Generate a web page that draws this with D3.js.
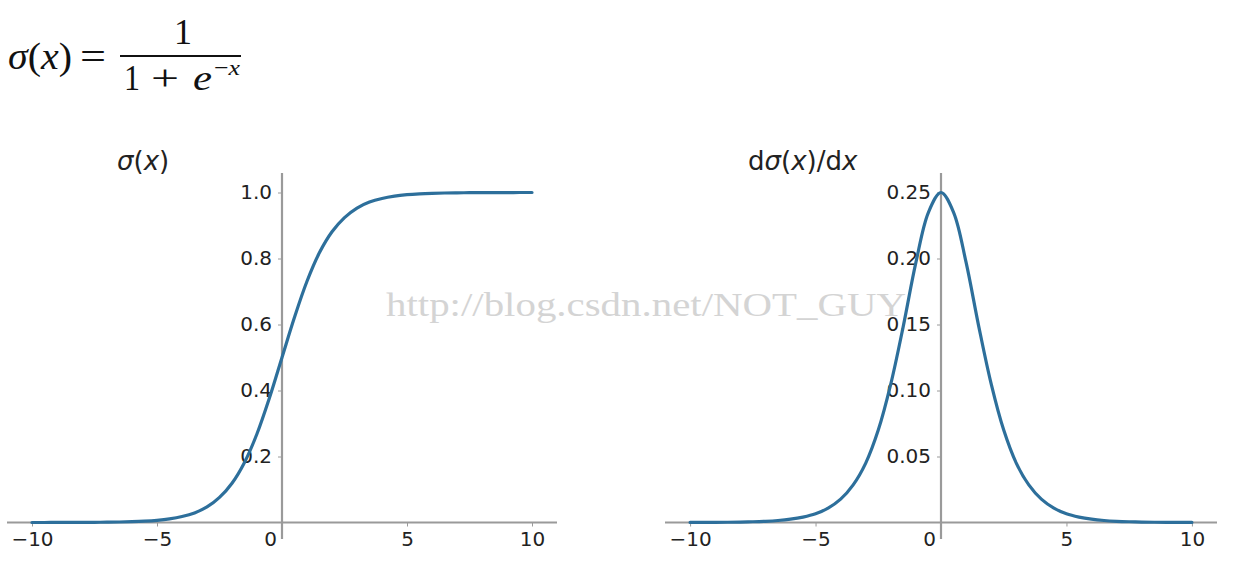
<!DOCTYPE html>
<html>
<head>
<meta charset="utf-8">
<script src="https://cdn.jsdelivr.net/npm/d3@7"></script>
<style>
  body { margin: 0; background: #fff; }
</style>
</head>
<body>
<svg id="chart" width="1240" height="580"></svg>
<script>
// x samples shared by both curves
const xs = [-10, -9.5, -9, -8.5, -8, -7.5, -7, -6.5, -6, -5.5, -5, -4.5, -4, -3.5, -3, -2.5, -2, -1.5, -1, -0.5,
  0, 0.5, 1, 1.5, 2, 2.5, 3, 3.5, 4, 4.5, 5, 5.5, 6, 6.5, 7, 7.5, 8, 8.5, 9, 9.5, 10];

// sigma(x)
const sigmaVals = [0.00005, 0.00007, 0.00012, 0.0002, 0.00034, 0.00055, 0.0009, 0.0015, 0.0025, 0.0041,
  0.0067, 0.011, 0.018, 0.029, 0.047, 0.076, 0.119, 0.182, 0.269, 0.378,
  0.5, 0.622, 0.731, 0.818, 0.881, 0.924, 0.953, 0.971, 0.982, 0.989,
  0.9933, 0.9959, 0.9975, 0.9985, 0.9991, 0.99945, 0.99966, 0.9998, 0.99988, 0.99993, 0.99995];

// d sigma / dx
const dSigmaVals = [0.00005, 0.00007, 0.00012, 0.0002, 0.00034, 0.00055, 0.0009, 0.0015, 0.0025, 0.0041,
  0.0066, 0.0109, 0.0177, 0.0285, 0.045, 0.070, 0.105, 0.149, 0.197, 0.235,
  0.25, 0.235, 0.197, 0.149, 0.105, 0.070, 0.045, 0.0285, 0.0177, 0.0109,
  0.0066, 0.0041, 0.0025, 0.0015, 0.0009, 0.00055, 0.00034, 0.0002, 0.00012, 0.00007, 0.00005];

const xTicks = [-10, -5, 0, 5, 10];
const sigmaTicks = [0.2, 0.4, 0.6, 0.8, 1.0];
const dSigmaTicks = [0.05, 0.10, 0.15, 0.20, 0.25];

const lineColor = "#2d6f9b";
const spineColor = "#9a9a9a";
const sans = "DejaVu Sans, sans-serif";
const serif = "Liberation Serif, DejaVu Serif, serif";

const svg = d3.select("#chart");

// formula at the top, placed piece by piece
const f = svg.append("g").style("font-family", serif).attr("fill", "#111");
function ftext(x, y, size, html, len) {
  const t = f.append("text").attr("x", x).attr("y", y).style("font-size", size + "px").html(html);
  if (len) t.attr("textLength", len).attr("lengthAdjust", "spacingAndGlyphs");
  return t;
}
ftext(8, 69, 38, '<tspan font-style="italic">σ</tspan>(<tspan font-style="italic">x</tspan>)', 64);
ftext(80, 69, 38, '=', 26);
ftext(174, 44, 36, '1');
f.append("line").attr("x1", 120).attr("x2", 241).attr("y1", 56).attr("y2", 56)
  .attr("stroke", "#111").attr("stroke-width", 2.2);
ftext(124, 90, 36, '1', 16);
ftext(151, 90, 36, '+', 28);
ftext(193, 90, 36, '<tspan font-style="italic">e</tspan>', 19);
ftext(214, 75, 22, '−<tspan font-style="italic">x</tspan>', 26);

function panel(opts) {
  const x = d3.scaleLinear().domain([-11, 11]).range([opts.x0, opts.x1]);
  const y = d3.scaleLinear().domain(opts.yDomain).range([opts.yBottom, opts.yTop]);
  const g = svg.append("g");

  // x axis through y = 0
  const ax = g.append("g").attr("transform", `translate(0,${y(0)})`)
    .call(d3.axisBottom(x).tickValues(xTicks).tickSize(4).tickPadding(5)
      .tickFormat(d => d < 0 ? "−" + Math.abs(d) : d));
  ax.select(".domain").attr("stroke", spineColor).attr("stroke-width", 2.2)
    .attr("d", `M${opts.x0},0H${opts.x1}`);
  ax.selectAll(".tick line").attr("stroke", spineColor);
  ax.selectAll(".tick text").style("font-size", "20px").style("font-family", sans).attr("fill", "#222")
    .attr("dx", d => d === 0 ? -12 : 0);

  // y axis through x = 0
  const ay = g.append("g").attr("transform", `translate(${x(0)},0)`)
    .call(d3.axisLeft(y).tickValues(opts.yTicks).tickSize(4).tickPadding(6).tickFormat(opts.fmt));
  ay.select(".domain").attr("stroke", spineColor).attr("stroke-width", 2.2)
    .attr("d", `M0,${opts.yBottom}V${opts.yTop - 3}`);
  ay.selectAll(".tick line").attr("stroke", spineColor);
  ay.selectAll(".tick text").style("font-size", "20px").style("font-family", sans).attr("fill", "#222");

  const line = d3.line().x((d, i) => x(xs[i])).y(d => y(d)).curve(d3.curveCatmullRom);
  g.append("path").datum(opts.vals).attr("d", line)
    .attr("fill", "none").attr("stroke", lineColor).attr("stroke-width", 3.2)
    .attr("stroke-linecap", "round");

  g.append("text").attr("x", opts.titleX).attr("y", 170).style("font-size", "26px")
    .style("font-family", sans).attr("fill", "#222")
    .html(opts.title);
}

panel({
  x0: 7, x1: 557, yTop: 176, yBottom: 539,
  yDomain: [-0.05, 1.05], yTicks: sigmaTicks, fmt: d3.format(".1f"),
  vals: sigmaVals, titleX: 117,
  title: '<tspan font-style="italic">σ</tspan>(<tspan font-style="italic">x</tspan>)'
});

panel({
  x0: 665, x1: 1217, yTop: 176, yBottom: 539,
  yDomain: [-0.0125, 0.2625], yTicks: dSigmaTicks, fmt: d3.format(".2f"),
  vals: dSigmaVals, titleX: 748,
  title: 'd<tspan font-style="italic">σ</tspan>(<tspan font-style="italic">x</tspan>)/d<tspan font-style="italic">x</tspan>'
});

// watermark
svg.append("text").attr("x", 386).attr("y", 316)
  .style("font-family", serif).style("font-size", "33px")
  .attr("fill", "#d4d4d4").attr("textLength", 520).attr("lengthAdjust", "spacingAndGlyphs")
  .text("http://blog.csdn.net/NOT_GUY");
</script>
</body>
</html>
